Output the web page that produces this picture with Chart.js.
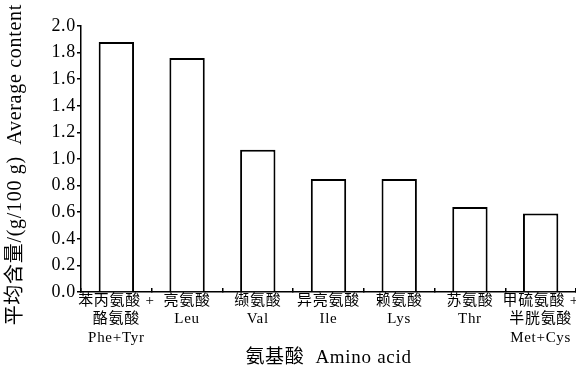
<!DOCTYPE html>
<html>
<head>
<meta charset="utf-8">
<script src="https://cdn.jsdelivr.net/npm/chart.js@4/dist/chart.umd.min.js"></script>
<style>
  html, body { margin: 0; padding: 0; background: #fff; }
  #wrap { width: 576px; height: 376px; }
</style>
</head>
<body>
<div id="wrap"><canvas id="c" width="576" height="376"></canvas></div>
<script>
// Amino acid names (Chinese lines) and their abbreviations
const cnNames = [
  ["苯丙氨酸 +", "酪氨酸"],
  ["亮氨酸"],
  ["缬氨酸"],
  ["异亮氨酸"],
  ["赖氨酸"],
  ["苏氨酸"],
  ["甲硫氨酸 +", "半胱氨酸"]
];
const abbrs = ["Phe+Tyr", "Leu", "Val", "Ile", "Lys", "Thr", "Met+Cys"];

// Average content, g/100 g
const avgContent = [1.88, 1.76, 1.07, 0.85, 0.85, 0.64, 0.59];

// Value axis range
const yMin = 0;
const yMax = 2.0;
const yStep = 0.2;

const yTitle = "平均含量/(g/100 g)  Average content  ";
const xTitle = "氨基酸  Amino acid";

const labels = cnNames.map((lines, i) => [...lines, abbrs[i]]);

const SERIF = '"Liberation Serif", "Noto Sans CJK SC", serif';

// slightly spaced lettering for all canvas text
const spacing = {
  id: 'spacing',
  beforeUpdate(chart) { chart.ctx.letterSpacing = '0.7px'; },
  beforeDraw(chart) { chart.ctx.letterSpacing = '0.7px'; }
};

new Chart(document.getElementById('c'), {
  type: 'bar',
  data: {
    labels: labels,
    datasets: [{
      data: avgContent,
      backgroundColor: '#ffffff',
      borderColor: '#000000',
      borderWidth: 2,
      categoryPercentage: 1.0,
      barPercentage: 0.5
    }]
  },
  options: {
    responsive: false,
    animation: false,
    events: [],
    layout: { padding: { top: 26, right: 0, bottom: 0, left: 0 } },
    plugins: {
      legend: { display: false },
      tooltip: { enabled: false }
    },
    scales: {
      x: {
        offset: true,
        grid: {
          display: true,
          offset: true,
          drawOnChartArea: false,
          drawTicks: true,
          tickLength: -4,
          color: '#000',
          lineWidth: 1.5
        },
        border: { display: true, color: '#000', width: 1.5 },
        ticks: {
          color: '#000',
          maxRotation: 0,
          autoSkip: false,
          padding: 4,
          font: { family: SERIF, size: 15, lineHeight: 1.22 }
        },
        title: {
          display: true,
          text: xTitle,
          color: '#000',
          font: { family: SERIF, size: 19, lineHeight: 1.2 },
          padding: { top: 0, bottom: 7 }
        },
        afterFit(scale) {
          scale.height = 84;
          // the axis runs to the right edge; end labels may touch it
          scale.paddingLeft = 0;
          scale.paddingRight = 0;
        }
      },
      y: {
        min: yMin,
        max: yMax,
        grid: {
          display: true,
          drawOnChartArea: false,
          drawTicks: true,
          tickLength: 4,
          color: '#000',
          lineWidth: 1.5
        },
        border: { display: true, color: '#000', width: 1.5 },
        ticks: {
          stepSize: yStep,
          color: '#000',
          padding: 1,
          font: { family: SERIF, size: 18 },
          callback: (v) => Number(v).toFixed(1)
        },
        title: {
          display: true,
          text: yTitle,
          color: '#000',
          font: { family: SERIF, size: 20, lineHeight: 1.2 },
          padding: { top: 4, bottom: 0 }
        },
        afterFit(scale) { scale.width = 81; }
      }
    }
  },
  plugins: [spacing]
});
</script>
</body>
</html>
